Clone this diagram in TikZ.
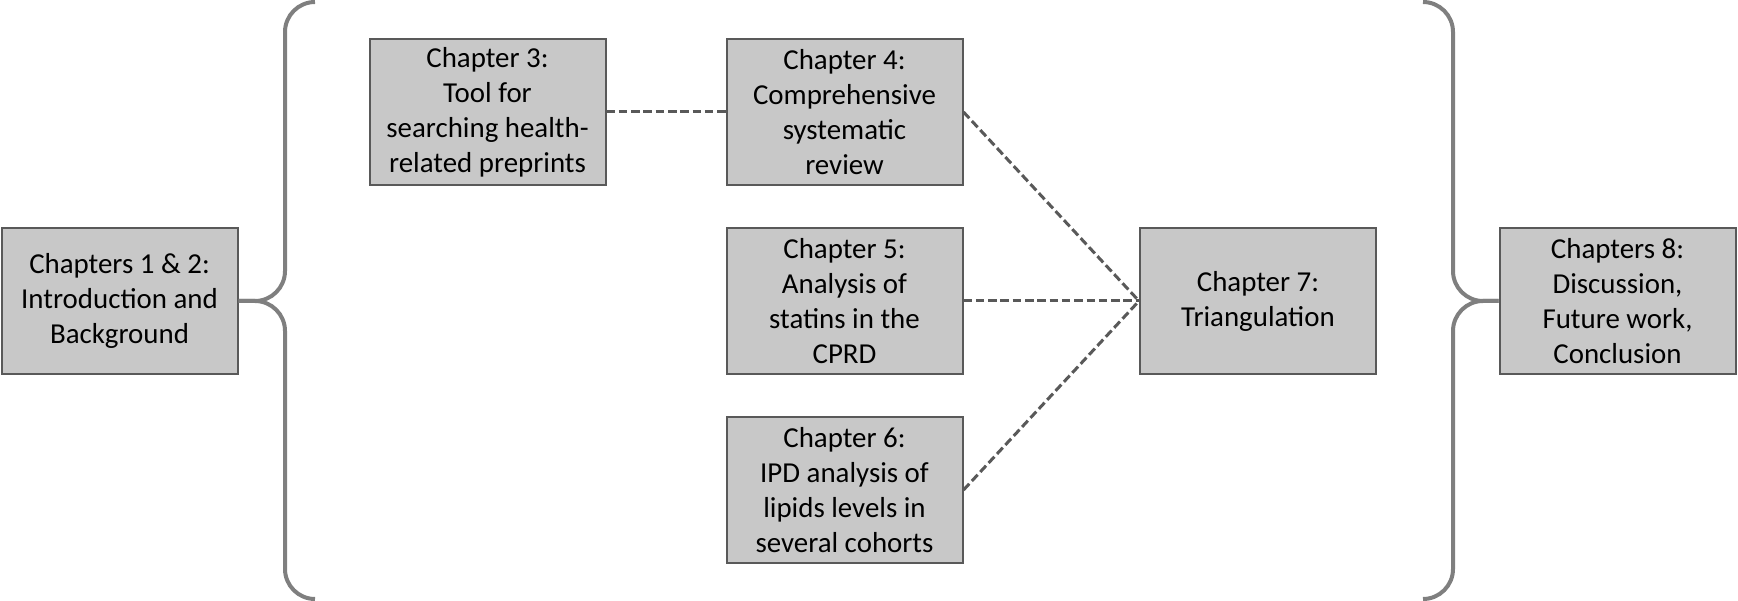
\documentclass[tikz,border=0pt]{standalone}
\usepackage{fontspec}
\setmainfont{Carlito}
\begin{document}
\begin{tikzpicture}[x=1pt,y=-1pt,
  chbox/.style={draw=boxline, fill=boxfill, line width=2pt, minimum width=236pt, minimum height=146pt, inner sep=0pt, align=center, font=\fontsize{28.9}{35}\selectfont},
  bracepath/.style={draw=bracecol, line width=4pt, rounded corners=30pt},
  dashlink/.style={draw=dashcol, line width=3pt, dash pattern=on 8.5pt off 3.8pt}]
\definecolor{boxfill}{RGB}{200,200,200}
\definecolor{boxline}{RGB}{89,89,89}
\definecolor{bracecol}{RGB}{127,127,127}
\definecolor{dashcol}{RGB}{89,89,89}
\useasboundingbox (0,0) rectangle (1738,601);
\node[chbox] (c12) at (119.5,301) {Chapters 1 \& 2:\\Introduction and\\Background};
\node[chbox] (c3) at (487.5,112) {Chapter 3:\\Tool for\\searching health-\\related preprints};
\node[chbox] (c4) at (844.5,112) {Chapter 4:\\Comprehensive\\systematic\\review};
\node[chbox] (c5) at (844.5,301) {Chapter 5:\\Analysis of\\statins in the\\CPRD};
\node[chbox] (c6) at (844.5,490) {Chapter 6:\\IPD analysis of\\lipids levels in\\several cohorts};
\node[chbox] (c7) at (1258,301) {Chapter 7:\\Triangulation};
\node[chbox] (c8) at (1617.5,301) {Chapters 8:\\Discussion,\\Future work,\\Conclusion};
% left brace
\coordinate (lbt) at (315,2);
\coordinate (lbb) at (315,599);
\draw[bracepath] (lbt) -- (285,2) -- (285,301) -- (c12.east);
\draw[bracepath] (c12.east) -- (285,301) -- (285,599) -- (lbb);
% right brace
\coordinate (rbt) at (1423,2);
\coordinate (rbb) at (1423,599);
\draw[bracepath] (rbt) -- (1453,2) -- (1453,301) -- (c8.west);
\draw[bracepath] (c8.west) -- (1453,301) -- (1453,599) -- (rbb);
% dashed links
\draw[dashlink] (c3.east) -- (c4.west);
\draw[dashlink] (c4.east) -- (c7.west);
\draw[dashlink] (c5.east) -- (c7.west);
\draw[dashlink] (c6.east) -- (c7.west);
\end{tikzpicture}
\end{document}
